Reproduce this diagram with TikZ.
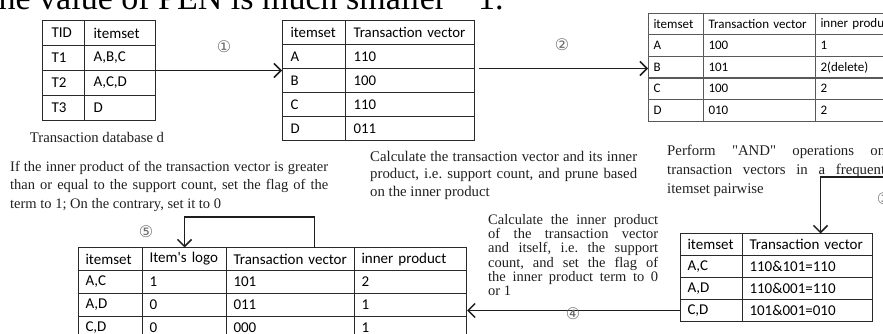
\documentclass[tikz,border=0pt]{standalone}
\usepackage{fontspec}
\setmainfont{Liberation Serif}[Ligatures=TeXOff]
\newfontfamily\tabfont{Carlito}
\newfontfamily\symfont{DejaVu Sans}
\usetikzlibrary{matrix,arrows.meta,calc}
\definecolor{tabline}{HTML}{2A2A2A}
\definecolor{connc}{HTML}{1E1E1E}
\definecolor{txtc}{HTML}{202020}
\definecolor{numc}{HTML}{6A6A6A}
\frenchspacing
\begin{document}
\begin{tikzpicture}[x=1pt,y=-1pt,
  tab/.style={matrix of nodes, inner sep=0pt, outer sep=0pt,
    column sep=-1pt, row sep=-1pt, nodes in empty cells, anchor=north west,
    nodes={draw=tabline, line width=1pt, outer sep=0pt, inner ysep=0pt,
      anchor=center, align=left, text=black}},
  conn/.style={draw=connc, line width=1.5pt},
  arr/.style={conn, -{Straight Barb[length=7pt,width=14pt,line width=1.5pt]}},
  num/.style={font=\symfont\fontsize{16}{16}\selectfont, text=numc, inner sep=0pt},
  para/.style={align=justify, inner sep=0pt, anchor=north west, text=txtc},
]
\path[use as bounding box, clip] (0,0) rectangle (883,334);

% clipped page text at top
\node[anchor=base west, inner sep=0pt, font=\fontsize{34}{34}\selectfont, text=black] (top1) at (-11,10) {the value of PEN is much smaller};
\node[anchor=base west, inner sep=0pt, font=\fontsize{34}{34}\selectfont, text=black] (top2) at (478,10) {1.};

% table 1
\matrix[tab, nodes={font=\tabfont\fontsize{15}{18}\selectfont, minimum height=25pt, inner xsep=9pt},
  column 1/.style={nodes={text width=24pt}},
  column 2/.style={nodes={text width=53pt}}] (t1) at (42,20) {
  TID & itemset \\
  T1 & A,B,C \\
  T2 & A,C,D \\
  T3 & D \\
};
\node[font=\fontsize{14.7}{16}\selectfont, text=txtc, inner sep=0pt] (cap) at (97,137) {Transaction database d};

% table 2
\matrix[tab, nodes={font=\tabfont\fontsize{14.8}{18}\selectfont, minimum height=24pt, inner xsep=8pt},
  column 1/.style={nodes={text width=47pt}},
  column 2/.style={nodes={text width=113pt}}] (t2) at (282,20) {
  itemset & Transaction vector \\
  A & 110 \\
  B & 100 \\
  C & 110 \\
  D & 011 \\
};

% table 3
\matrix[tab, nodes={draw=black!65, font=\tabfont\fontsize{13}{16}\selectfont, minimum height=21.5pt, inner xsep=5pt},
  column 1/.style={nodes={text width=45pt}},
  column 2/.style={nodes={text width=102pt}},
  column 3/.style={nodes={text width=100pt}}] (t3) at (648,13) {
  itemset & Transaction vector & inner product \\
  A & 100 & 1 \\
  B & 101 & 2(delete) \\
  C & 100 & 2 \\
  D & 010 & 2 \\
};

% table 4
\matrix[tab, nodes={font=\tabfont\fontsize{15}{18}\selectfont, minimum height=22pt, inner xsep=7pt},
  column 1/.style={nodes={text width=48pt}},
  column 2/.style={nodes={text width=116pt}}] (t4) at (680,233) {
  itemset & Transaction vector \\
  A,C & 110\&101=110 \\
  A,D & 110\&001=110 \\
  C,D & 101\&001=010 \\
};

% table 5
\matrix[tab, nodes={font=\tabfont\fontsize{15}{18}\selectfont, minimum height=23pt, inner xsep=7pt},
  column 1/.style={nodes={text width=50pt}},
  column 2/.style={nodes={text width=70pt}},
  column 3/.style={nodes={text width=114pt}},
  column 4/.style={nodes={text width=98pt}}] (t5) at (78,247) {
  itemset & Item's logo & Transaction vector & inner product \\
  A,C & 1 & 101 & 2 \\
  A,D & 0 & 011 & 1 \\
  C,D & 0 & 000 & 1 \\
};

% paragraphs
\node[para, text width=318pt, font=\fontsize{14.5}{18.5}\selectfont] (p5) at (10,161)
 {If the inner product of the transaction vector is greater\linebreak than or equal to the support count, set the flag of the\linebreak term to 1; On the contrary, set it to 0};
\node[para, text width=267pt, font=\fontsize{14.8}{17.5}\selectfont] (p2) at (370,151)
 {Calculate the transaction vector and its inner\linebreak product, i.e. support count, and prune based\linebreak on the inner product};
\node[para, text width=218pt, font=\fontsize{14.8}{19}\selectfont] (p3) at (667,145)
 {Perform "AND" operations on\linebreak transaction vectors in a frequent\linebreak itemset pairwise};
\node[para, text width=170pt, font=\fontsize{14.5}{14.3}\selectfont] (p4) at (488,214)
 {Calculate the inner product\linebreak of the transaction vector\linebreak and itself, i.e. the support\linebreak count, and set the flag of\linebreak the inner product term to 0\linebreak or 1};

% connectors
\draw[arr] (t1.east) -- (t1.east -| t2.west);
\node[num] (n1) at (224,47) {①};
\draw[arr] ([xshift=4pt]t2-3-2.north east) -- (t2-3-2.north east -| t3.west);
\node[num] (n2) at (562,45) {②};
\coordinate (c3) at (890,177);
\draw[arr] (c3) -| ([xshift=13pt]t4-1-2.north);
\node[num] (n3) at (884,199) {③};
\draw[arr] (t4-4-1.west) -- (t4-4-1.west -| t5.east);
\node[num] (n4) at (573,314) {④};
\coordinate (s5) at ([xshift=24pt]t5-1-3.north);
\coordinate (c5) at (0,217);
\draw[arr] (s5) -- (s5 |- c5) -| (t5-1-2.north);
\node[num] (n5) at (146,232) {⑤};
\end{tikzpicture}
\end{document}
